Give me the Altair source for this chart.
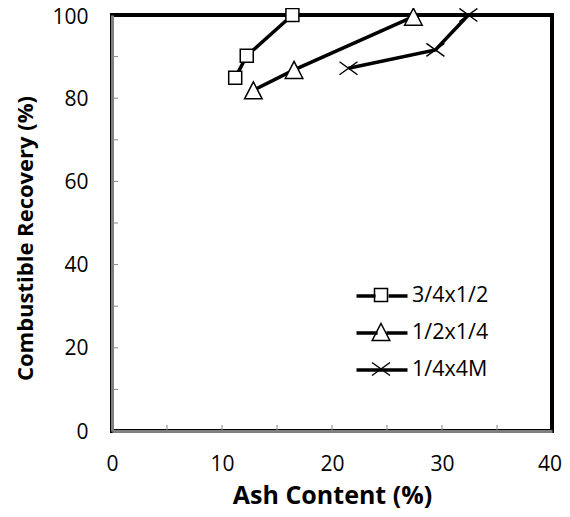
import altair as alt
import pandas as pd

# ---- data ----
series_names = ["3/4x1/2", "1/2x1/4", "1/4x4M"]
ash_34x12 = [11.2, 12.25, 16.4]
rec_34x12 = [84.9, 90.2, 100.0]
ash_12x14 = [12.85, 16.55, 27.4]
rec_12x14 = [81.9, 86.8, 99.6]
ash_14x4M = [21.5, 29.4, 32.4]
rec_14x4M = [87.2, 91.6, 100.0]

x_label_values = [0, 10, 20, 30, 40]
y_label_values = [0, 20, 40, 60, 80, 100]
x_tick_values = [5, 10, 15, 20, 25, 30, 35]
y_tick_values = [10, 20, 30, 40, 50, 60, 70, 80, 90]

rows = []
for name, xs, ys in zip(series_names,
                        [ash_34x12, ash_12x14, ash_14x4M],
                        [rec_34x12, rec_12x14, rec_14x4M]):
    for i, (a, r) in enumerate(zip(xs, ys)):
        rows.append({"series": name, "ash": a, "rec": r, "order": i})
df = pd.DataFrame(rows)

FONT = "Open Sans"
GRAY = "#7f7f7f"

# marker shapes (unit = sqrt(size)/2)
marker_paths = [
    "M-0.65,-0.65L0.65,-0.65L0.65,0.65L-0.65,0.65Z",
    "M0,-0.85L0.88,0.85L-0.88,0.85Z",
    "M-0.9,-0.65L0.9,0.65M-0.9,0.65L0.9,-0.65",
]
legend_line_paths = [
    "M-2.55,0L-0.65,0M0.65,0L2.55,0",
    "M-2.55,0L-0.44,0M0.44,0L2.55,0",
    "M-2.55,0L2.55,0",
]

xscale = alt.Scale(domain=[0, 40], nice=False, zero=False)
yscale = alt.Scale(domain=[0, 100], nice=False, zero=False)

xaxis = alt.Axis(values=x_label_values, ticks=False, grid=False,
                 domainColor=GRAY, domainWidth=3,
                 labelFont=FONT, labelFontSize=21, labelColor="black",
                 labelPadding=22, labelFlush=False, labelOverlap=False,
                 labelOffset={"condition": {"test": "datum.value == 40", "value": -2.5},
                              "value": 0},
                 title="Ash Content (%)", titleFont=FONT, titleFontSize=25,
                 titleFontWeight="bold", titleColor="black",
                 titleX=220, titleY=72, titleAlign="center",
                 titleBaseline="alphabetic")
yaxis = alt.Axis(values=y_label_values, ticks=False, grid=False,
                 domainColor=GRAY, domainWidth=3,
                 labelFont=FONT, labelFontSize=21, labelColor="black",
                 labelPadding=24, labelFlush=False, labelOverlap=False,
                 labelOffset={"condition": {"test": "datum.value == 100", "value": 2},
                              "value": 1},
                 title="Combustible Recovery (%)", titleFont=FONT,
                 titleFontSize=22, titleFontWeight="bold", titleColor="black",
                 titleAngle=270, titleX=-87, titleY=223,
                 titleAlign="center", titleBaseline="middle")

X = alt.X("ash:Q", scale=xscale, axis=xaxis)
Y = alt.Y("rec:Q", scale=yscale, axis=yaxis)

base = alt.Chart(df)

lines = base.mark_line(color="black", strokeWidth=3.5).encode(
    x=X, y=Y, detail="series:N", order="order:Q")

points = base.mark_point(filled=True, fill="white", stroke="black",
                         strokeWidth=1.5, size=400, opacity=1).encode(
    x=X, y=Y,
    shape=alt.Shape("series:N", sort=series_names,
                    scale=alt.Scale(domain=series_names, range=marker_paths),
                    legend=None))

legend_common = dict(title=None, orient="none", legendX=258, legendY=269,
                     padding=0, symbolSize=400, symbolStrokeColor="black",
                     symbolOpacity=1, labelFont=FONT, labelFontSize=21.5,
                     labelColor="black", labelOffset=18, rowPadding=14,
                     labelLimit=300)

legend_lines = base.mark_point(opacity=0, size=400).encode(
    x=X, y=Y,
    shape=alt.Shape("series:N", sort=series_names,
                    scale=alt.Scale(domain=series_names, range=legend_line_paths),
                    legend=alt.Legend(symbolStrokeWidth=3.5,
                                      symbolFillColor="transparent",
                                      **legend_common)))

legend_markers = base.mark_point(opacity=0, size=400).encode(
    x=X, y=Y,
    shape=alt.Shape("series_m:N", sort=series_names,
                    scale=alt.Scale(domain=series_names, range=marker_paths),
                    legend=alt.Legend(symbolStrokeWidth=1.5,
                                      symbolFillColor="white",
                                      labelExpr="' '",
                                      **legend_common))).transform_calculate(
    series_m="datum.series")

xticks = alt.Chart(pd.DataFrame({"ash": x_tick_values})).mark_rule(
    color="#868686", strokeWidth=1).encode(
    x=X, y=alt.value(416), y2=alt.value(410))

yticks = alt.Chart(pd.DataFrame({"rec": y_tick_values})).mark_rule(
    color="#868686", strokeWidth=1).encode(
    y=Y, x=alt.value(0), x2=alt.value(6))

chart = alt.layer(xticks, yticks, lines, points, legend_lines, legend_markers
).resolve_scale(shape="independent").properties(
    width=440, height=416,
    autosize=alt.AutoSizeParams(type="none"),
    padding={"left": 104, "top": 7, "right": 10, "bottom": 78},
    background="white",
).configure_view(stroke="black", strokeWidth=4)

chart.save("out.html", embed_options={"renderer": "svg", "actions": False})
